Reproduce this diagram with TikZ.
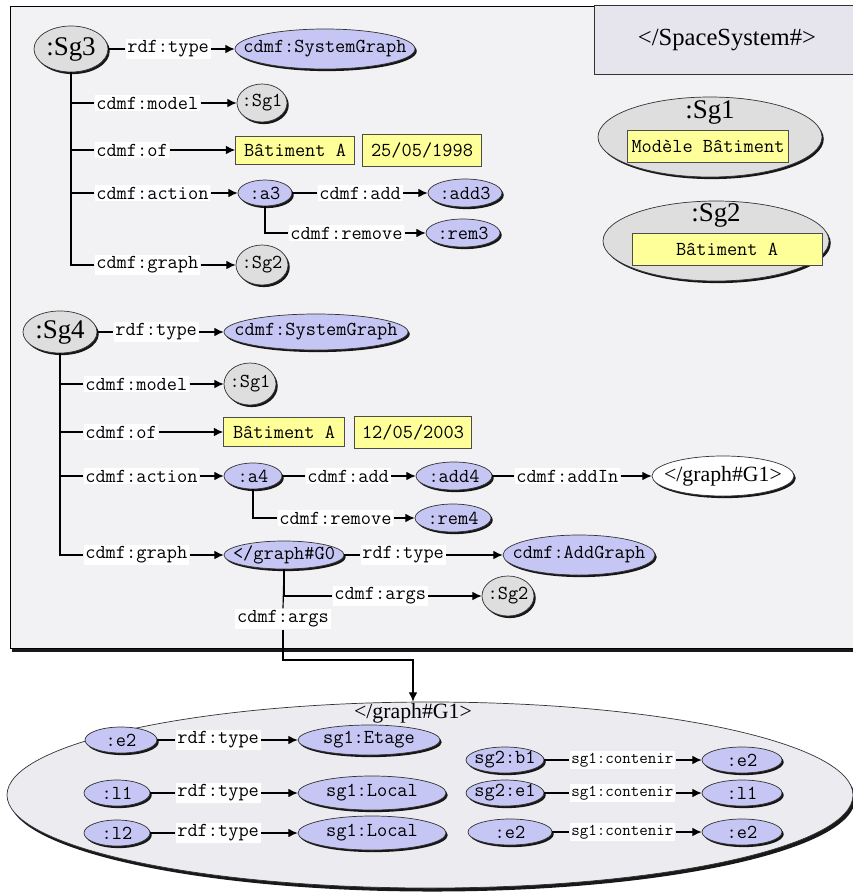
\documentclass[tikz,border=0pt]{standalone}
\usepackage{fontspec}
\setmainfont{Liberation Serif}
\usetikzlibrary{shapes.geometric,shadows,arrows.meta}
\definecolor{panel}{RGB}{242,242,244}
\definecolor{nsbox}{RGB}{230,228,236}
\definecolor{lilac}{RGB}{198,198,244}
\definecolor{stone}{RGB}{222,222,222}
\definecolor{butter}{RGB}{255,255,153}
\definecolor{mist}{RGB}{236,236,240}
\newcommand{\tymono}{\fontsize{16.9}{18}\selectfont\ttfamily}
\newcommand{\tysmall}{\fontsize{14.1}{16}\selectfont\ttfamily}
\newcommand{\tyserif}{\fontsize{23}{25}\selectfont\rmfamily}
\newcommand{\tytitle}{\fontsize{21}{23}\selectfont\rmfamily}
\newcommand{\tygraph}{\fontsize{18.6}{20}\selectfont\rmfamily}
\tikzset{
  dropshd/.style={drop shadow={shadow xshift=1.5pt,shadow yshift=-1.8pt,fill=black,opacity=0.9}},
  bigshd/.style={drop shadow={shadow xshift=2pt,shadow yshift=-3pt,fill=black,opacity=0.9}},
  res/.style 2 args={ellipse,draw=black!80,line width=0.6pt,dropshd,inner xsep=-1cm,inner ysep=-4pt,minimum width=#1*0.03cm,minimum height=#2*0.03cm,font=\tymono},
  bres/.style 2 args={res={#1}{#2},fill=lilac},
  gres/.style 2 args={res={#1}{#2},fill=stone},
  wres/.style 2 args={res={#1}{#2},fill=white,font=\tygraph},
  ybox/.style 2 args={rectangle,draw=black!70,line width=0.6pt,fill=butter,inner sep=0pt,minimum width=#1*0.03cm,minimum height=#2*0.03cm,font=\tymono},
  lbl/.style={fill=white,inner sep=1.5pt,font=\tymono},
  lbls/.style={lbl,font=\tysmall},
  nsframe/.style={rectangle,draw=black!80,line width=0.6pt,fill=nsbox,font=\tytitle},
  tip/.style={-{Latex[length=8pt,width=7.5pt]}}
}

\begin{document}
\begin{tikzpicture}[x=0.03cm,y=-0.03cm,line width=1pt]
            \useasboundingbox (0,0) rectangle (853,892);
            \draw[fill=panel,bigshd,line width=0.7pt] (10,6) rectangle (875,648);
            \node[nsframe,minimum width=266*0.03cm,minimum height=69*0.03cm] (ns) at (727,40) {</SpaceSystem\#>};
            \node[gres={224}{80}] (sg1big) at (710,137) {};
            \node[font=\tyserif] (sg1name) at (710,112) {:Sg1};
            \node[ybox={161}{32}] (sg1val) at (708,146) {Modèle Bâtiment};
            \node[gres={226}{80}] (sg2big) at (716,241) {};
            \node[font=\tyserif] (sg2name) at (716,215) {:Sg2};
            \node[ybox={190}{32}] (sg2val) at (727,249) {Bâtiment A};

            \node[gres={74}{46},font=\tyserif] (sg3) at (71,49) {:Sg3};
            \node[lbl,anchor=west] (ltype3) at (125,49) {rdf:type};
            \node[bres={180}{40}] (sgraph3) at (325,49) {cdmf:SystemGraph};
            \node[lbl,anchor=west] (lmodel3) at (94,103) {cdmf:model};
            \node[gres={50}{38}] (sg1a) at (262,103) {:Sg1};
            \node[lbl,anchor=west] (lof3) at (94,150) {cdmf:of~};
            \node[ybox={119}{28}] (bat3) at (295,150) {Bâtiment A};
            \node[ybox={119}{32}] (date3) at (422,150) {25/05/1998};
            \node[lbl,anchor=west] (lact3) at (94,193) {cdmf:action};
            \node[bres={54}{26}] (a3) at (265,193) {:a3};
            \node[lbl,anchor=west] (ladd3) at (317,193) {cdmf:add};
            \node[bres={74}{28}] (add3) at (465,193) {:add3};
            \node[lbl,anchor=west] (lrem3) at (288,233) {cdmf:remove};
            \node[bres={74}{28}] (rem3) at (463,233) {:rem3};
            \node[lbl,anchor=west] (lgraph3) at (94,265) {cdmf:graph};
            \node[gres={52}{40}] (sg2a) at (262,265) {:Sg2};
            \draw (sg3) -- (ltype3);
            \draw[tip] (ltype3) -- (sgraph3);
            \draw (sg3.south) |- (lmodel3.west);
            \draw (sg3.south) |- (lof3.west);
            \draw (sg3.south) |- (lact3.west);
            \draw (sg3.south) |- (lgraph3.west);
            \draw[tip] (lmodel3) -- (sg1a);
            \draw[tip] (lof3) -- (bat3);
            \draw[tip] (lact3) -- (a3);
            \draw (a3) -- (ladd3);
            \draw[tip] (ladd3) -- (add3);
            \draw (a3.south) |- (lrem3.west);
            \draw[tip] (lrem3) -- (rem3);
            \draw[tip] (lgraph3) -- (sg2a);

            \node[gres={74}{42},font=\tyserif] (sg4) at (60,332) {:Sg4};
            \node[lbl,anchor=west] (ltype4) at (113,332) {rdf:type};
            \node[bres={184}{36}] (sgraph4) at (316,332) {cdmf:SystemGraph};
            \node[lbl,anchor=west] (lmodel4) at (83,384) {cdmf:model};
            \node[gres={52}{42}] (sg1b) at (250,384) {:Sg1};
            \node[lbl,anchor=west] (lof4) at (83,432) {cdmf:of~};
            \node[ybox={121}{29}] (bat4) at (284,432) {Bâtiment A};
            \node[ybox={117}{32}] (date4) at (413,432) {12/05/2003};
            \node[lbl,anchor=west] (lact4) at (83,476) {cdmf:action};
            \node[bres={58}{26}] (a4) at (253,476) {:a4};
            \node[lbl,anchor=west] (ladd4) at (305,476) {cdmf:add};
            \node[bres={76}{28}] (add4) at (454,476) {:add4};
            \node[lbl,anchor=west] (laddin4) at (514,476) {cdmf:addIn};
            \node[wres={142}{40}] (g1small) at (723,476) {</graph\#G1>};
            \node[lbl,anchor=west] (lrem4) at (277,518) {cdmf:remove};
            \node[bres={76}{28}] (rem4) at (453,518) {:rem4};
            \node[lbl,anchor=west] (lgraph4) at (83,555) {cdmf:graph};
            \node[bres={120}{28}] (g0) at (284,555) {</graph\#G0};
            \node[lbl,anchor=west] (ltype4b) at (360,555) {rdf:type};
            \node[bres={152}{40}] (addg) at (579,555) {cdmf:AddGraph};
            \node[lbl,anchor=west] (largs1) at (332,596) {cdmf:args};
            \node[gres={52}{40}] (sg2b) at (508,596) {:Sg2};
            \node[lbl] (largs2) at (283,619) {cdmf:args};
            \draw (sg4) -- (ltype4);
            \draw[tip] (ltype4) -- (sgraph4);
            \draw (sg4.south) |- (lmodel4.west);
            \draw (sg4.south) |- (lof4.west);
            \draw (sg4.south) |- (lact4.west);
            \draw (sg4.south) |- (lgraph4.west);
            \draw[tip] (lmodel4) -- (sg1b);
            \draw[tip] (lof4) -- (bat4);
            \draw[tip] (lact4) -- (a4);
            \draw (a4) -- (ladd4);
            \draw[tip] (ladd4) -- (add4);
            \draw (add4) -- (laddin4);
            \draw[tip] (laddin4) -- (g1small);
            \draw (a4.south) |- (lrem4.west);
            \draw[tip] (lrem4) -- (rem4);
            \draw[tip] (lgraph4) -- (g0);
            \draw (g0) -- (ltype4b);
            \draw[tip] (ltype4b) -- (addg);
            \draw (g0.south) |- (largs1.west);
            \draw[tip] (largs1) -- (sg2b);
            \draw (g0.south) -- (largs2.north);

            \node[ellipse,draw=black!80,line width=0.6pt,fill=mist,bigshd,minimum width=846*0.03cm,minimum height=186*0.03cm] (g1big) at (430,795) {};
            \node[font=\tygraph] (g1title) at (413,713) {</graph\#G1>};
            \coordinate (bend) at (413,660);
            \draw[tip] (largs2.south) |- (bend) -- (bend |- g1big.north);
            \node[bres={72}{26}] (e2a) at (121,740) {:e2};
            \node[lbl,anchor=west] (lt1) at (175,740) {rdf:type};
            \node[bres={142}{30}] (etage) at (369,740) {sg1:Etage};
            \node[bres={66}{26}] (l1a) at (117,793) {:l1};
            \node[lbl,anchor=west] (lt2) at (175,793) {rdf:type};
            \node[bres={148}{34}] (loc1) at (372,793) {sg1:Local};
            \node[bres={66}{26}] (l2a) at (117,833) {:l2};
            \node[lbl,anchor=west] (lt3) at (175,833) {rdf:type};
            \node[bres={148}{34}] (loc2) at (372,833) {sg1:Local};
            \node[bres={78}{26}] (b1) at (505,760) {sg2:b1};
            \node[lbls,anchor=west] (lc1) at (569,760) {sg1:contenir};
            \node[bres={80}{26}] (e2b) at (742,760) {:e2};
            \node[bres={78}{26}] (e1) at (505,793) {sg2:e1};
            \node[lbls,anchor=west] (lc2) at (569,793) {sg1:contenir};
            \node[bres={80}{26}] (l1b) at (742,793) {:l1};
            \node[bres={84}{26}] (e2c) at (510,832) {:e2};
            \node[lbls,anchor=west] (lc3) at (569,832) {sg1:contenir};
            \node[bres={80}{26}] (e2d) at (742,832) {:e2};
            \draw (e2a) -- (lt1);
            \draw[tip] (lt1) -- (etage);
            \draw (l1a) -- (lt2);
            \draw[tip] (lt2) -- (loc1);
            \draw (l2a) -- (lt3);
            \draw[tip] (lt3) -- (loc2);
            \draw (b1) -- (lc1);
            \draw[tip] (lc1) -- (e2b);
            \draw (e1) -- (lc2);
            \draw[tip] (lc2) -- (l1b);
            \draw (e2c) -- (lc3);
            \draw[tip] (lc3) -- (e2d);
\end{tikzpicture}
\end{document}
